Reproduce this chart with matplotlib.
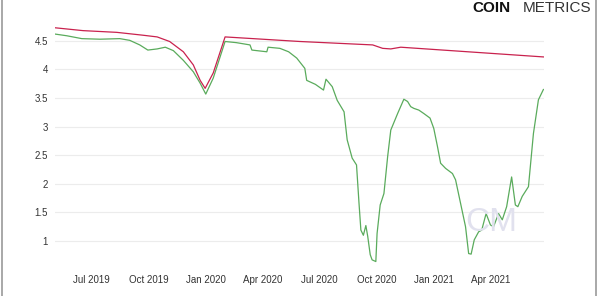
import numpy as np
import pandas as pd
import matplotlib
matplotlib.use("Agg")
import matplotlib.pyplot as plt
import matplotlib.dates as mdates
from matplotlib.lines import Line2D

plt.rcParams['font.family'] = ['Liberation Sans', 'DejaVu Sans']

# red series
red_dates = ["2019-05-03", "2019-06-17", "2019-08-10", "2019-09-21", "2019-10-14",
             "2019-11-03", "2019-11-25", "2019-12-11", "2019-12-22", "2019-12-30",
             "2020-01-12", "2020-01-31", "2020-05-30", "2020-09-24", "2020-10-10",
             "2020-10-23", "2020-11-08", "2021-06-25"]
red_vals = [4.73, 4.68, 4.65, 4.60, 4.57,
            4.49, 4.31, 4.08, 3.81, 3.67,
            3.94, 4.57, 4.49, 4.43, 4.37,
            4.36, 4.39, 4.22]

# green series
green_dates = ["2019-05-03", "2019-05-22", "2019-06-15", "2019-07-14", "2019-08-15",
               "2019-08-31", "2019-09-16", "2019-09-29", "2019-10-14", "2019-10-27",
               "2019-11-09", "2019-11-25", "2019-12-11", "2019-12-22", "2019-12-31",
               "2020-01-12", "2020-01-31", "2020-02-18", "2020-03-11", "2020-03-14",
               "2020-04-07", "2020-04-09", "2020-04-28", "2020-05-12", "2020-05-25",
               "2020-06-07", "2020-06-10", "2020-06-24", "2020-07-07", "2020-07-11",
               "2020-07-21", "2020-07-29", "2020-08-09", "2020-08-14", "2020-08-22",
               "2020-08-29", "2020-09-02", "2020-09-05", "2020-09-09", "2020-09-13",
               "2020-09-16", "2020-09-20", "2020-09-23", "2020-09-29", "2020-10-01",
               "2020-10-06", "2020-10-12", "2020-10-18", "2020-10-23", "2020-11-03",
               "2020-11-13", "2020-11-19", "2020-11-24", "2020-11-29", "2020-12-07",
               "2020-12-15", "2020-12-25", "2020-12-31", "2021-01-06", "2021-01-11",
               "2021-01-19", "2021-01-30", "2021-02-04", "2021-02-12", "2021-02-20",
               "2021-02-25", "2021-03-01", "2021-03-06", "2021-03-13", "2021-03-18",
               "2021-03-25", "2021-04-01", "2021-04-06", "2021-04-14", "2021-04-20",
               "2021-04-27", "2021-05-05", "2021-05-11", "2021-05-15", "2021-05-22",
               "2021-06-01", "2021-06-09", "2021-06-17", "2021-06-25"]
green_vals = [4.62, 4.59, 4.54, 4.53, 4.54,
              4.51, 4.43, 4.34, 4.36, 4.39,
              4.33, 4.16, 3.96, 3.76, 3.57,
              3.85, 4.49, 4.47, 4.43, 4.34,
              4.31, 4.39, 4.37, 4.31, 4.20,
              4.02, 3.81, 3.74, 3.64, 3.83,
              3.70, 3.46, 3.26, 2.77, 2.45,
              2.33, 1.66, 1.19, 1.10, 1.27,
              1.08, 0.76, 0.67, 0.64, 1.13,
              1.63, 1.83, 2.48, 2.94, 3.23,
              3.48, 3.44, 3.35, 3.32, 3.29,
              3.23, 3.15, 2.97, 2.65, 2.36,
              2.27, 2.18, 2.07, 1.66, 1.25,
              0.78, 0.77, 1.02, 1.16, 1.19,
              1.48, 1.28, 1.25, 1.48, 1.37,
              1.60, 2.12, 1.63, 1.60, 1.78,
              1.95, 2.88, 3.47, 3.65]

tick_dates = ["2019-07-01", "2019-10-01", "2020-01-01", "2020-04-01",
              "2020-07-01", "2020-10-01", "2021-01-01", "2021-04-01"]
tick_labels = ["Jul 2019", "Oct 2019", "Jan 2020", "Apr 2020",
               "Jul 2020", "Oct 2020", "Jan 2021", "Apr 2021"]
y_ticks = [1, 1.5, 2, 2.5, 3, 3.5, 4, 4.5]

fig = plt.figure(figsize=(6, 2.96), dpi=100)
ax = fig.add_axes([0.0917, 0.099, 0.815, 0.84])

ax.plot(pd.to_datetime(green_dates), green_vals, color="#5aab5c", lw=0.9)
ax.plot(pd.to_datetime(red_dates), red_vals, color="#c9224e", lw=0.9)

ax.set_xlim(pd.Timestamp("2019-05-03"), pd.Timestamp("2021-06-26"))
ax.set_ylim(0.55, 4.9)
ax.set_yticks(y_ticks)
ax.set_yticklabels(["1", "1.5", "2", "2.5", "3", "3.5", "4", "4.5"])
ax.set_xticks(pd.to_datetime(tick_dates))
ax.set_xticklabels(tick_labels)
ax.tick_params(axis="both", length=0, labelsize=7, labelcolor="#333333")
ax.tick_params(axis="y", pad=5)
ax.tick_params(axis="x", pad=6)
ax.grid(axis="y", color="#ececec", lw=0.8)
ax.set_axisbelow(True)
for s in ax.spines.values():
    s.set_visible(False)

# watermark
fig.text(0.818, 0.248, "CM", fontsize=24, color="#e1e1ee", ha="center",
         va="center", zorder=0)

# logo top right
fig.text(0.787, 0.995, "COIN", fontsize=11, fontweight="bold", color="#111111",
         ha="left", va="top")
fig.text(0.872, 0.995, "METRICS", fontsize=11, color="#333333",
         ha="left", va="top")

# frame
fig.add_artist(Line2D([0.004, 0.004], [0, 1], transform=fig.transFigure,
                      color="#9a9a9a", lw=1.2))
fig.add_artist(Line2D([0.994, 0.994], [0, 1], transform=fig.transFigure,
                      color="#9a9a9a", lw=1.2))

fig.savefig("out.png", dpi=100)
